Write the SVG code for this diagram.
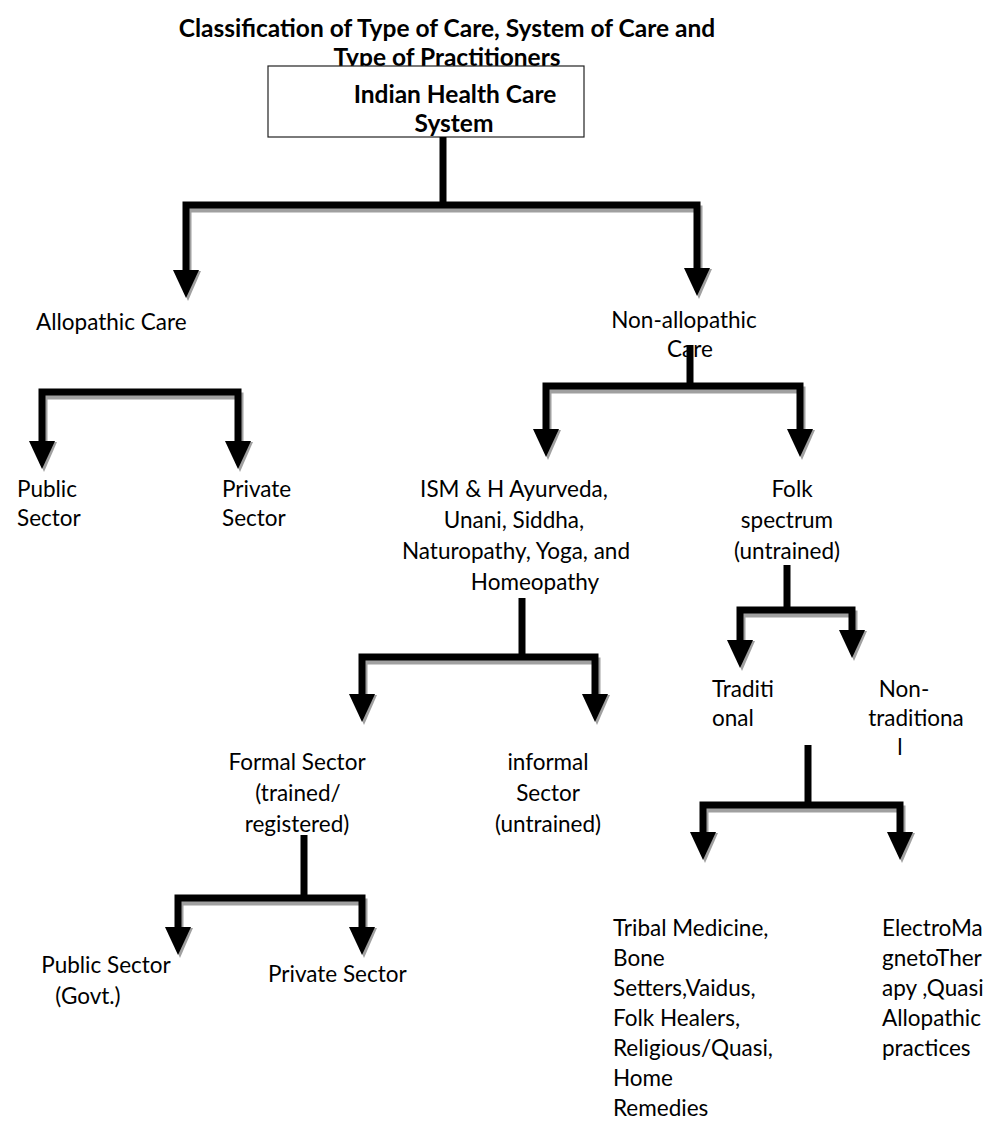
<svg xmlns="http://www.w3.org/2000/svg" xmlns:xlink="http://www.w3.org/1999/xlink" width="998" height="1133" viewBox="0 0 998 1133">
<defs>
<style>
.t{font-family:Lato,"Open Sans","Liberation Sans",sans-serif;font-size:22.5px;fill:#000}
.b{font-family:Lato,"Open Sans","Liberation Sans",sans-serif;font-size:24.5px;font-weight:bold;fill:#000}
.c{text-anchor:middle}
.bar{fill:none;stroke:#000;stroke-width:7;stroke-linejoin:miter;stroke-linecap:butt}
.sh{fill:none;stroke:#a0a0a0;stroke-width:7;stroke-linejoin:miter}
</style>
<g id="ahd">
<polygon points="-11,-27 15,-27 2,3" fill="#a0a0a0"/>
<polygon points="-13,-28 13,-28 0,0" fill="#000"/>
</g>
</defs>
<rect width="998" height="1133" fill="#fff"/>
<g id="title">
<text class="b c" x="447" y="37">Classification of Type of Care, System of Care and</text>
<text class="b c" x="447" y="66">Type of Practitioners</text>
</g>
<g id="root">
<rect x="268" y="66" width="316" height="71" fill="#fff" stroke="#222" stroke-width="1.2"/>
<text class="b c" x="455" y="103">Indian Health Care</text>
<text class="b c" x="454" y="132">System</text>
</g>
<g id="connectors">
<!-- root bracket -->
<line class="bar" x1="443" y1="137" x2="443" y2="205"/>
<polyline class="sh" points="188,272 188,209 699,209 699,270"/>
<polyline class="bar" points="186,272 186,205 697,205 697,270"/>
<use xlink:href="#ahd" x="186" y="298"/>
<use xlink:href="#ahd" x="697" y="296"/>
<!-- allopathic bracket -->
<polyline class="sh" points="44,443 44,396 240,396 240,443"/>
<polyline class="bar" points="42,443 42,392 238,392 238,443"/>
<use xlink:href="#ahd" x="42" y="469"/>
<use xlink:href="#ahd" x="238" y="469"/>
<!-- non-allopathic bracket -->
<line class="bar" x1="690" y1="345" x2="690" y2="386"/>
<polyline class="sh" points="548,431 548,390 802,390 802,431"/>
<polyline class="bar" points="546,431 546,386 800,386 800,431"/>
<use xlink:href="#ahd" x="546" y="457"/>
<use xlink:href="#ahd" x="800" y="457"/>
<!-- ISM bracket -->
<line class="bar" x1="522" y1="598" x2="522" y2="657"/>
<polyline class="sh" points="364,696 364,661 597,661 597,696"/>
<polyline class="bar" points="362,696 362,657 595,657 595,696"/>
<use xlink:href="#ahd" x="362" y="722"/>
<use xlink:href="#ahd" x="595" y="722"/>
<!-- folk bracket -->
<line class="bar" x1="787" y1="565" x2="787" y2="610"/>
<polyline class="sh" points="742,642 742,614 854,614 854,632"/>
<polyline class="bar" points="740,642 740,610 852,610 852,632"/>
<use xlink:href="#ahd" x="740" y="668"/>
<use xlink:href="#ahd" x="852" y="658"/>
<!-- non-traditional bracket -->
<line class="bar" x1="808" y1="745" x2="808" y2="805"/>
<polyline class="sh" points="705,834 705,809 902,809 902,834"/>
<polyline class="bar" points="703,834 703,805 900,805 900,834"/>
<use xlink:href="#ahd" x="703" y="860"/>
<use xlink:href="#ahd" x="900" y="860"/>
<!-- formal bracket -->
<line class="bar" x1="304" y1="835" x2="304" y2="898"/>
<polyline class="sh" points="180,929 180,902 364,902 364,929"/>
<polyline class="bar" points="178,929 178,898 362,898 362,929"/>
<use xlink:href="#ahd" x="178" y="955"/>
<use xlink:href="#ahd" x="362" y="955"/>
</g>
<g id="allopathic"><text class="t" x="36" y="330">Allopathic Care</text></g>
<g id="nonallopathic">
<text class="t c" x="684" y="328">Non-allopathic</text>
<text class="t c" x="690" y="357">Care</text>
</g>
<g id="public1"><text class="t" x="17" y="497">Public</text><text class="t" x="17" y="526">Sector</text></g>
<g id="private1"><text class="t" x="222" y="497">Private</text><text class="t" x="222" y="526">Sector</text></g>
<g id="ism">
<text class="t c" x="514" y="497">ISM &amp; H Ayurveda,</text>
<text class="t c" x="514" y="528">Unani, Siddha,</text>
<text class="t c" x="516" y="559">Naturopathy, Yoga, and</text>
<text class="t c" x="535" y="590">Homeopathy</text>
</g>
<g id="folk">
<text class="t c" x="792" y="497">Folk</text>
<text class="t c" x="787" y="528">spectrum</text>
<text class="t c" x="787" y="559">(untrained)</text>
</g>
<g id="traditional"><text class="t" x="712" y="697">Traditi</text><text class="t" x="712" y="726">onal</text></g>
<g id="nontraditional">
<text class="t c" x="904" y="697">Non-</text>
<text class="t c" x="916" y="726">traditiona</text>
<text class="t c" x="900" y="755">l</text>
</g>
<g id="formal">
<text class="t c" x="297" y="770">Formal Sector</text>
<text class="t c" x="298" y="801">(trained/</text>
<text class="t c" x="297" y="832">registered)</text>
</g>
<g id="informal">
<text class="t c" x="548" y="770">informal</text>
<text class="t c" x="548" y="801">Sector</text>
<text class="t c" x="548" y="832">(untrained)</text>
</g>
<g id="public2">
<text class="t c" x="106" y="973">Public Sector</text>
<text class="t c" x="88" y="1004">(Govt.)</text>
</g>
<g id="private2"><text class="t" x="268" y="982">Private Sector</text></g>
<g id="tribal">
<text class="t" x="613" y="936">Tribal Medicine,</text>
<text class="t" x="613" y="966">Bone</text>
<text class="t" x="613" y="996">Setters,Vaidus,</text>
<text class="t" x="613" y="1026">Folk Healers,</text>
<text class="t" x="613" y="1056">Religious/Quasi,</text>
<text class="t" x="613" y="1086">Home</text>
<text class="t" x="613" y="1116">Remedies</text>
</g>
<g id="electro">
<text class="t" x="882" y="936">ElectroMa</text>
<text class="t" x="882" y="966">gnetoTher</text>
<text class="t" x="882" y="996">apy ,Quasi</text>
<text class="t" x="882" y="1026">Allopathic</text>
<text class="t" x="882" y="1056">practices</text>
</g>
</svg>
